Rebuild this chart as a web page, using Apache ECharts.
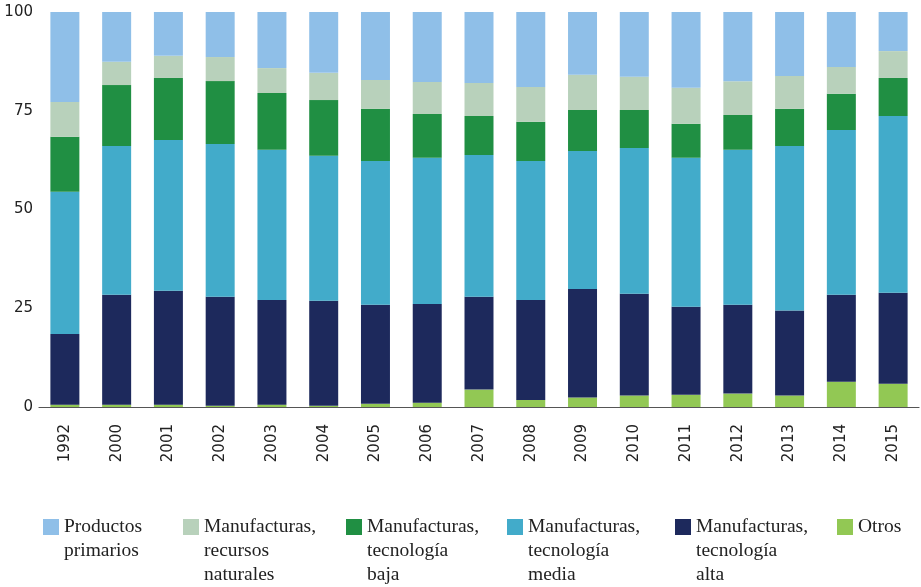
<!DOCTYPE html>
<html>
<head>
<meta charset="utf-8">
<script src="https://cdn.jsdelivr.net/npm/echarts@6/dist/echarts.min.js"></script>
<style>html,body{margin:0;padding:0;background:#fff}#c{width:921px;height:587px}</style>
</head>
<body>
<div id="c"></div>
<script>
const years = ['1992','2000','2001','2002','2003','2004','2005','2006','2007','2008','2009','2010','2011','2012','2013','2014','2015'];
const otros   = [0.6,0.6,0.6,0.3,0.6,0.3,0.8,1.1,4.4,1.8,2.4,2.9,3.1,3.4,2.9,6.4,5.9];
const alta    = [17.9,27.8,28.8,27.6,26.5,26.6,25.1,25.0,23.5,25.3,27.5,25.8,22.3,22.5,21.5,22.0,23.0];
const media   = [36.0,37.7,38.2,38.7,38.0,36.7,36.4,37.0,35.9,35.2,34.9,36.9,37.7,39.2,41.7,41.7,44.8];
const baja    = [13.9,15.4,15.7,15.9,14.4,14.1,13.2,11.1,9.9,9.9,10.4,9.6,8.6,8.8,9.4,9.2,9.6];
const recNat  = [8.8,5.9,5.6,6.1,6.3,6.9,7.3,8.1,8.3,8.8,8.9,8.4,9.1,8.6,8.3,6.8,6.8];
const primarios = [22.8,12.6,11.1,11.4,14.2,15.4,17.2,17.7,18.0,19.0,15.9,16.4,19.2,17.5,16.2,13.9,9.9];
const yTicks = [0,25,50,75,100];

const names = {
  pp: 'Productos\nprimarios',
  rn: 'Manufacturas,\nrecursos\nnaturales',
  tb: 'Manufacturas,\ntecnología\nbaja',
  tm: 'Manufacturas,\ntecnología\nmedia',
  ta: 'Manufacturas,\ntecnología\nalta',
  ot: 'Otros'
};
const colors = {pp:'#8fbfe8', rn:'#b8d1bb', tb:'#208f43', tm:'#42abca', ta:'#1d295c', ot:'#92c854'};

function mkSeries(key, data){
  return {name: names[key], type:'bar', stack:'total', data: data, barWidth:'56%',
    itemStyle:{color: colors[key]}, emphasis:{disabled:true}};
}
function mkLegend(key, left, lines){
  const total = 2*lines - 1;
  const boxTop = Math.min(0, 8 - total*24/2);
  return {data:[names[key]], left:left, top: 519 + boxTop, padding:0, orient:'horizontal',
    icon:'rect', itemWidth:16, itemHeight:16,
    formatter: function(n){ return '\n'.repeat(lines-1) + n; },
    textStyle:{fontFamily:'Liberation Serif', fontSize:19.5, color:'#222', lineHeight:24}};
}

const chart = echarts.init(document.getElementById('c'));
chart.setOption({
  animation:false,
  grid:{left:39, right:2, top:12, bottom:180, containLabel:false},
  xAxis:{type:'category', data: years,
    axisLine:{show:true, lineStyle:{color:'#555', width:1.2}},
    axisTick:{show:false},
    axisLabel:{rotate:90, margin:17, fontFamily:'DejaVu Sans', fontSize:15, color:'#222', interval:0}},
  yAxis:{type:'value', min:yTicks[0], max:yTicks[yTicks.length-1], interval:25,
    axisLine:{show:false}, axisTick:{show:false}, splitLine:{show:false},
    axisLabel:{fontFamily:'DejaVu Sans', fontSize:15, color:'#222', margin:6}},
  legend:[
    mkLegend('pp',43,2), mkLegend('rn',183,3), mkLegend('tb',346,3),
    mkLegend('tm',507,3), mkLegend('ta',675,3), mkLegend('ot',837,1)
  ],
  series:[
    mkSeries('ot', otros), mkSeries('ta', alta), mkSeries('tm', media),
    mkSeries('tb', baja), mkSeries('rn', recNat), mkSeries('pp', primarios)
  ]
});
</script>
</body>
</html>
